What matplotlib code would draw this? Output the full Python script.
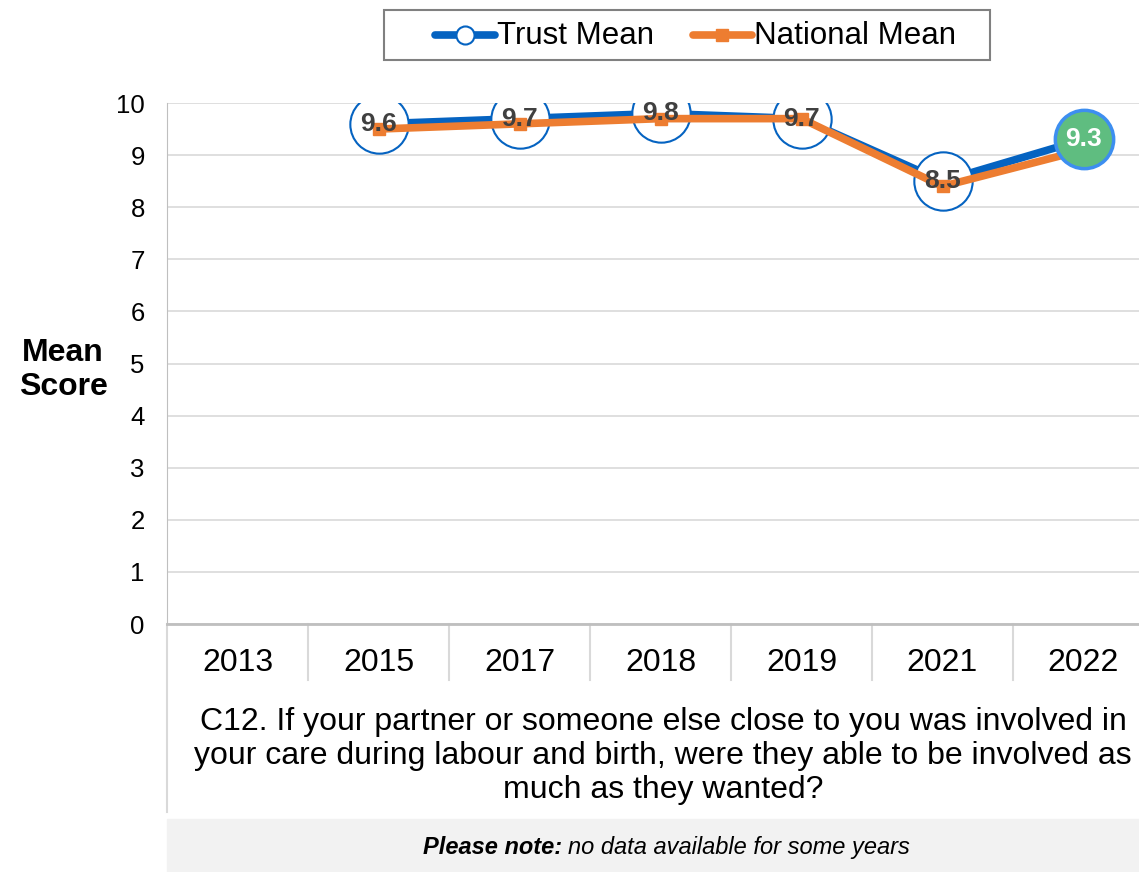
import matplotlib
matplotlib.use("Agg")
import matplotlib.pyplot as plt
import numpy as np
from matplotlib.lines import Line2D
from matplotlib.patches import Rectangle

plt.rcParams["font.family"] = ["Liberation Sans", "DejaVu Sans"]

years = ["2013", "2015", "2017", "2018", "2019", "2021", "2022"]
trust_mean = [np.nan, 9.6, 9.7, 9.8, 9.7, 8.5, 9.3]
national_mean = [np.nan, 9.5, 9.6, 9.7, 9.7, 8.4, 9.1]
series_names = ["Trust Mean", "National Mean"]
question = ("C12. If your partner or someone else close to you was involved in\n"
            "your care during labour and birth, were they able to be involved as\n"
            "much as they wanted?")

BLUE = "#0563C1"
ORANGE = "#ED7D31"
GREEN = "#5FBD80"
W, H = 1139, 872

fig = plt.figure(figsize=(W / 100, H / 100), dpi=100)
ax = fig.add_axes([167 / W, (H - 624) / H, 1 - 167 / W, (624 - 103) / H])

x = np.arange(len(years))
ax.set_xlim(-0.5, -0.5 + (W - 167) / 141)
ax.set_ylim(0, 10)

ax.plot(x, trust_mean, color=BLUE, lw=5.5, zorder=2, solid_capstyle="round")
ax.plot(x[:-1], trust_mean[:-1], ls="none", marker="o", ms=42, mfc="white",
        mec=BLUE, mew=1.5, zorder=3)
ax.plot(x, national_mean, color=ORANGE, lw=5.5, marker="s", ms=9, zorder=4,
        solid_capstyle="round")
ax.plot(x[-1:], trust_mean[-1:], ls="none", marker="o", ms=42, mfc=GREEN,
        mec="#3D8EF0", mew=2.5, zorder=5)

for i, v in enumerate(trust_mean):
    if np.isnan(v):
        continue
    last = i == len(trust_mean) - 1
    ax.text(x[i], v, f"{v:.1f}", ha="center", va="center", fontsize=19,
            fontweight="bold", color="white" if last else "#404040", zorder=6)

ax.set_yticks(range(0, 11))
ax.set_xticks([])
ax.tick_params(axis="y", length=0, labelsize=18.5, pad=16)
ax.grid(axis="y", color="#D9D9D9", lw=1.2)
ax.set_axisbelow(True)
for s in ["top", "right"]:
    ax.spines[s].set_visible(False)
ax.spines["left"].set_color("#BFBFBF")
ax.spines["bottom"].set_color("#BFBFBF")
ax.spines["bottom"].set_linewidth(2)

# category labels and separators below the axis
for i, yr in enumerate(years):
    ax.text(x[i], -0.75, yr, ha="center", va="center", fontsize=23)
for b in np.arange(0.5, len(years) - 1, 1.0):
    ax.plot([b, b], [0, -1.08], color="#D9D9D9", lw=1.5, clip_on=False)
ax.plot([-0.5, -0.5], [0, -3.6], color="#D9D9D9", lw=1.5, clip_on=False)

fig.text(663 / W, 1 - 756 / H, question, ha="center", va="center",
         fontsize=23, linespacing=1.17)

# note box
fig.patches.append(Rectangle((167 / W, 0), 1 - 167 / W, (H - 819) / H,
                             transform=fig.transFigure, color="#F2F2F2", zorder=0))
fig.text(562 / W, 1 - 847 / H, "Please note:", ha="right", va="center",
         fontsize=17, fontweight="bold", style="italic")
fig.text(568 / W, 1 - 847 / H, "no data available for some years", ha="left",
         va="center", fontsize=17, style="italic")

fig.text(63 / W, 1 - 370 / H, "Mean\nScore", ha="center", va="center",
         fontsize=23, fontweight="bold", linespacing=1.17)

# legend drawn by hand to match the boxed layout
fx = lambda px: px / W
fy = lambda py: 1 - py / H
fig.patches.append(Rectangle((fx(384), fy(60)), fx(990) - fx(384), fy(10) - fy(60),
                             transform=fig.transFigure, fill=False,
                             edgecolor="#808080", lw=1.5))
fig.lines.append(Line2D([fx(435), fx(495)], [fy(35), fy(35)], transform=fig.transFigure,
                        color=BLUE, lw=5.5, solid_capstyle="round"))
fig.lines.append(Line2D([fx(465)], [fy(35)], transform=fig.transFigure, ls="none",
                        marker="o", ms=13, mfc="white", mec=BLUE, mew=1.5))
fig.text(fx(497), fy(36), series_names[0], ha="left", va="center", fontsize=22.5)
fig.lines.append(Line2D([fx(693), fx(752)], [fy(35), fy(35)], transform=fig.transFigure,
                        color=ORANGE, lw=5.5, solid_capstyle="round"))
fig.lines.append(Line2D([fx(722)], [fy(35)], transform=fig.transFigure, ls="none",
                        marker="s", ms=9, color=ORANGE))
fig.text(fx(754), fy(36), series_names[1], ha="left", va="center", fontsize=22.5)

fig.savefig("out.png", dpi=100)
